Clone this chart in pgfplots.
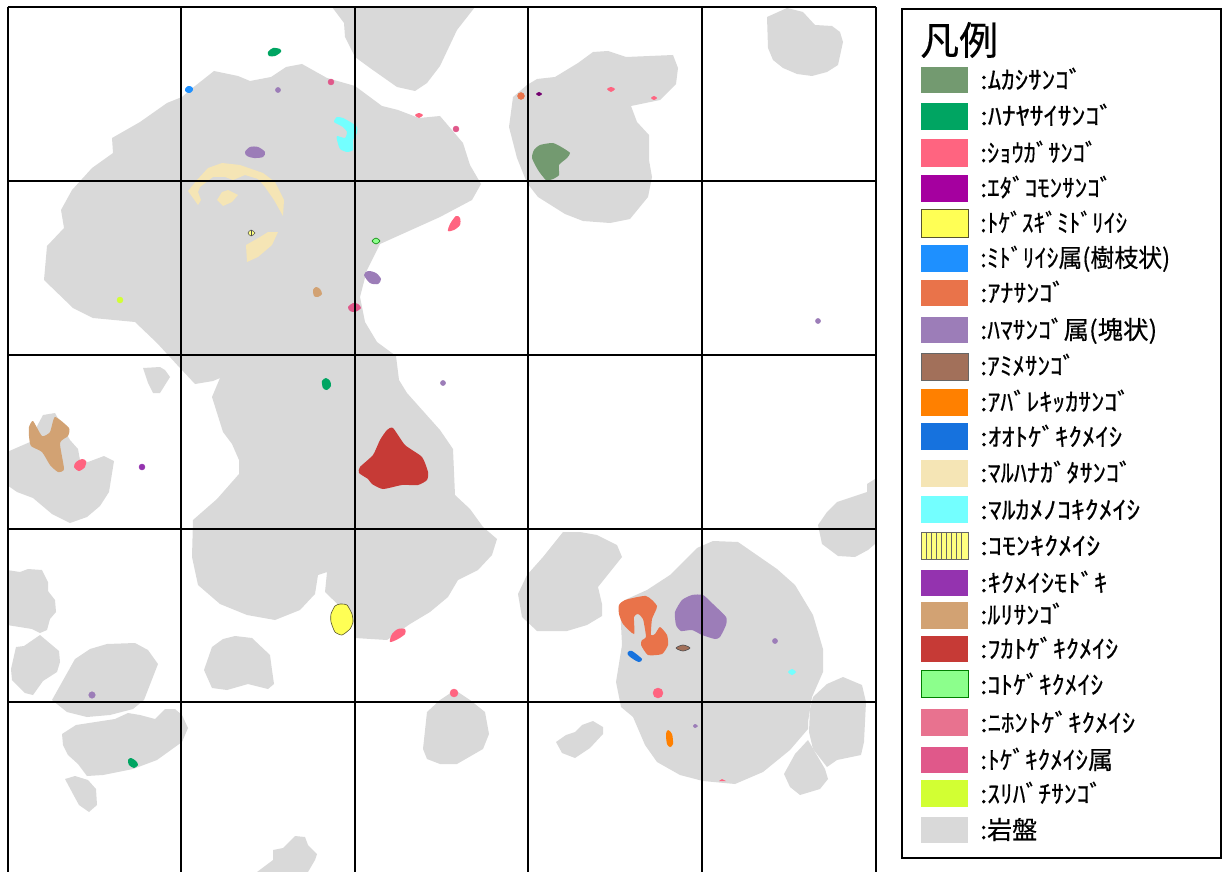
\documentclass[border=0pt]{standalone}
\usepackage{fontspec}
\usepackage{graphicx}
\usepackage{pgfplots}
\pgfplotsset{compat=1.18}
\setmainfont{Noto Sans CJK JP}

\definecolor{rock}{HTML}{D9D9D9}
\definecolor{mukashi}{HTML}{739A70}
\definecolor{hanayasai}{HTML}{00A562}
\definecolor{shouga}{HTML}{FF6480}
\definecolor{edakomon}{HTML}{A5009F}
\definecolor{togesugi}{HTML}{FFFF55}
\definecolor{midoriishi}{HTML}{1E90FF}
\definecolor{ana}{HTML}{E9734A}
\definecolor{hama}{HTML}{9C7DB8}
\definecolor{amime}{HTML}{A2705A}
\definecolor{abare}{HTML}{FF8000}
\definecolor{ootoge}{HTML}{1672DE}
\definecolor{maruhana}{HTML}{F5E5B5}
\definecolor{marukame}{HTML}{73FFFF}
\definecolor{komon}{HTML}{FFFF80}
\definecolor{modoki}{HTML}{9433AF}
\definecolor{ruri}{HTML}{D2A273}
\definecolor{fukatoge}{HTML}{C63A36}
\definecolor{kotoge}{HTML}{8CFF8C}
\definecolor{nihontoge}{HTML}{E8728F}
\definecolor{togekiku}{HTML}{E0588A}
\definecolor{suribachi}{HTML}{D2FF33}

% squeeze a legend label to the width it has in the picture
\newsavebox\fitbox
\newcommand\fitw[2]{\sbox\fitbox{#2}\pgfmathsetmacro\fitratio{#1/\the\wd\fitbox}\scalebox{\fitratio}[1]{\usebox\fitbox}}
\newcommand\leglabel[3]{\node[anchor=base west,inner sep=0pt] at (axis cs:980,#1+9) {\fontsize{25pt}{25pt}\selectfont\addfontfeature{FakeBold=0.4}\fitw{#2}{#3}};}
\newcommand\swatch[4][none]{\addplot[fill=#2,draw=#1,line width=0.8pt] coordinates {(921,#3) (968,#3) (968,#4) (921,#4)} -- cycle;}
\pgfplotsset{
  rockpoly/.style={fill=rock,draw=none},
  blob/.style={fill=#1,draw=none,smooth cycle},
  softblob/.style={fill=#1,draw=none,smooth cycle,tension=0.35},
  dot/.style={only marks,mark=*,mark size=#1pt,mark options={draw=none}},
  gridline/.style={black,line width=2pt},
}

\begin{document}
\begin{tikzpicture}
\begin{axis}[
    scale only axis,
    width=1224pt,
    height=872pt,
    xmin=0,xmax=1224,
    ymin=0,ymax=872,
    y dir=reverse,
    hide axis,
    unbounded coords=jump,
]
% keeps the whole page in the bounding box
\addplot[draw=none] coordinates {(0,0) (1224,872)};
% bedrock
\addplot[rockpoly] coordinates {(182,97) (190,90) (214,71) (238,76) (250,81) (271,77) (286,67) (302,64) (327,78) (355,86) (382,106) (398,110) (419,118) (440,116) (463,143) (470,165) (481,184) (472,200) (440,217) (400,235) (380,244) (367,270) (360,297) (365,322) (377,342) (396,356) (399,380) (407,393) (440,430) (453,449) (455,495) (470,509) (483,527) (497,539) (492,555) (478,570) (458,580) (448,597) (430,612) (410,624) (387,640) (355,638) (353,619) (325,592) (327,572) (318,575) (315,594) (300,610) (275,620) (247,615) (220,604) (198,585) (192,557) (193,520) (217,499) (239,474) (239,460) (232,444) (223,432) (212,397) (220,378) (213,381) (195,384) (180,368) (157,343) (135,322) (93,318) (73,308) (44,280) (47,246) (64,228) (61,210) (72,190) (92,168) (113,153) (112,138) (140,122) (167,103)} -- cycle;
\addplot[rockpoly] coordinates {(332,7) (344,23) (345,37) (355,57) (370,68) (397,87) (415,91) (427,83) (440,66) (457,30) (475,7)} -- cycle;
\addplot[rockpoly] coordinates {(537,79) (555,77) (578,63) (593,52) (608,51) (626,57) (673,55) (678,68) (676,84) (660,100) (631,106) (637,122) (649,135) (649,160) (652,177) (648,197) (630,219) (610,223) (583,221) (565,214) (538,197) (527,183) (517,158) (509,127) (513,97) (527,85)} -- cycle;
\addplot[rockpoly] coordinates {(767,17) (787,8) (803,12) (815,25) (832,26) (840,32) (843,42) (838,65) (827,72) (812,76) (797,74) (783,68) (773,60) (768,48)} -- cycle;
\addplot[rockpoly] coordinates {(143,368) (160,367) (165,370) (170,377) (160,393) (153,393) (148,383)} -- cycle;
\addplot[rockpoly] coordinates {(7,452) (30,442) (35,430) (43,415) (55,413) (70,440) (78,449) (80,460) (88,462) (104,456) (114,461) (109,492) (100,506) (87,517) (70,523) (52,514) (33,498) (17,492) (7,485)} -- cycle;
\addplot[rockpoly] coordinates {(7,570) (20,572) (28,569) (42,570) (48,582) (48,591) (55,600) (56,612) (50,619) (47,630) (40,633) (32,629) (7,625)} -- cycle;
\addplot[rockpoly] coordinates {(16,647) (24,646) (40,635) (59,651) (60,662) (57,672) (43,681) (33,695) (25,693) (12,680) (11,669)} -- cycle;
\addplot[rockpoly] coordinates {(75,659) (90,649) (107,644) (135,643) (148,650) (158,664) (144,700) (133,709) (110,715) (87,717) (67,712) (52,700)} -- cycle;
\addplot[rockpoly] coordinates {(62,734) (76,725) (115,719) (128,713) (140,715) (155,719) (165,709) (175,709) (182,715) (188,728) (182,742) (157,760) (133,769) (103,775) (87,776) (78,764) (68,755) (63,745)} -- cycle;
\addplot[rockpoly] coordinates {(65,779) (75,776) (88,780) (96,789) (97,805) (89,812) (79,805) (73,794)} -- cycle;
\addplot[rockpoly] coordinates {(204,670) (212,647) (223,639) (235,636) (252,638) (270,655) (272,670) (274,684) (268,689) (248,684) (227,690) (212,688)} -- cycle;
\addplot[rockpoly] coordinates {(295,836) (305,837) (308,845) (317,854) (315,860) (308,872) (257,872) (273,860) (273,850) (283,848)} -- cycle;
\addplot[rockpoly] coordinates {(440,700) (427,712) (423,749) (427,759) (440,764) (457,764) (483,749) (489,734) (485,712) (470,700) (455,690)} -- cycle;
\addplot[rockpoly] coordinates {(556,742) (566,735) (575,732) (582,725) (593,721) (603,727) (603,734) (590,748) (575,758) (562,753)} -- cycle;
\addplot[rockpoly] coordinates {(563,532) (580,532) (597,535) (617,545) (622,557) (598,587) (602,604) (602,616) (587,625) (567,631) (537,631) (522,617) (518,594) (527,575) (543,557)} -- cycle;
\addplot[rockpoly] coordinates {(713,541) (738,542) (777,569) (795,585) (813,615) (823,649) (823,672) (812,697) (808,722) (808,729) (790,750) (763,772) (735,784) (703,781) (680,775) (657,762) (645,745) (633,717) (621,707) (616,682) (622,645) (620,605) (627,599) (647,590) (670,575) (697,548)} -- cycle;
\addplot[rockpoly] coordinates {(813,697) (827,684) (843,677) (862,685) (866,702) (864,742) (861,755) (837,760) (827,767) (813,749) (809,732) (810,709)} -- cycle;
\addplot[rockpoly] coordinates {(808,740) (815,752) (825,769) (828,779) (820,789) (800,795) (790,787) (784,774) (795,754)} -- cycle;
\addplot[rockpoly] coordinates {(875,479) (867,484) (867,492) (837,502) (827,512) (818,525) (822,544) (838,556) (855,557) (868,550) (875,544)} -- cycle;

% large colonies
\addplot[softblob=mukashi] coordinates {(540,145) (553,143) (563,148) (570,153) (567,158) (559,165) (559,175) (553,179) (546,180) (538,170) (532,158) (534,150)};
\addplot[fill=maruhana,draw=none] coordinates {(188,191) (197,180) (208,168) (222,163) (240,165) (263,173) (275,182) (284,200) (283,216) (274,200) (265,187) (258,179) (245,175) (233,180) (225,177) (213,177) (200,187) (198,192) (201,200) (198,205)} -- cycle;
\addplot[fill=maruhana,draw=none] coordinates {(217,200) (222,192) (228,190) (238,195) (232,202) (223,206)} -- cycle;
\addplot[fill=maruhana,draw=none] coordinates {(246,245) (260,237) (268,232) (278,232) (272,245) (258,257) (247,262)} -- cycle;
\addplot[softblob=marukame] coordinates {(334,122) (337,117) (343,118) (352,123) (357,127) (357,133) (353,140) (353,150) (347,152) (340,149) (337,140) (337,136) (345,138) (347,132) (343,127)};
\addplot[softblob=ruri] coordinates {(29,427) (33,421) (42,436) (50,432) (55,417) (69,428) (68,436) (60,443) (64,469) (58,472) (50,465) (42,452) (31,446) (29,436)};
\addplot[softblob=fukatoge] coordinates {(393,428) (405,445) (422,457) (428,472) (427,480) (418,485) (402,485) (383,489) (372,484) (368,479) (359,473) (360,467) (373,455) (380,440) (387,430)};
\addplot[softblob=ana] coordinates {(619,605) (625,600) (646,596) (657,606) (652,619) (651,635) (655,634) (660,627) (667,635) (668,645) (662,654) (648,655) (641,645) (642,640) (646,637) (643,619) (638,614) (634,617) (634,634) (623,624) (619,614)};
\addplot[softblob=hama] coordinates {(675,612) (682,600) (692,595) (703,595) (713,604) (726,617) (726,625) (720,637) (715,639) (702,635) (692,630) (681,631) (676,625)};
\addplot[fill=togesugi,draw=black!50!olive,line width=0.6pt,smooth cycle,tension=0.35] coordinates {(340,604) (347,605) (352,614) (353,622) (350,629) (342,635) (335,632) (331,622) (331,614) (335,606)};

% small colonies
\addplot[blob=hanayasai] coordinates {(268,52) (273,48) (280,49) (281,52) (275,56) (269,56)};
\addplot[blob=midoriishi] coordinates {(185,89) (188,86) (192,87) (193,90) (190,93) (186,92)};
\addplot[blob=shouga] coordinates {(415,115) (419,113) (423,115) (419,118)};
\addplot[blob=hama] coordinates {(245,152) (250,147) (258,147) (265,152) (263,157) (254,158) (247,156)};
\addplot[blob=hama] coordinates {(364,275) (368,271) (376,273) (381,279) (378,284) (370,283)};
\addplot[blob=ruri] coordinates {(313,290) (316,287) (320,289) (322,294) (318,297) (314,296)};
\addplot[blob=togekiku] coordinates {(348,307) (353,303) (358,304) (361,308) (355,312) (350,311)};
\addplot[blob=hanayasai] coordinates {(322,381) (326,378) (330,381) (331,386) (327,390) (323,388)};
\addplot[blob=shouga] coordinates {(448,231) (450,224) (456,216) (460,218) (460,225) (454,230)};
\addplot[blob=edakomon!70!black] coordinates {(536,94) (539,92) (542,94) (539,96)};
\addplot[blob=shouga] coordinates {(607,89) (611,87) (615,89) (611,92)};
\addplot[blob=shouga] coordinates {(651,98) (654,96) (657,98) (654,100)};
\addplot[blob=shouga] coordinates {(74,467) (76,462) (82,459) (86,461) (85,467) (79,471)};
\addplot[blob=hanayasai] coordinates {(128,760) (131,758) (136,761) (138,765) (134,768) (129,765)};
\addplot[blob=shouga] coordinates {(390,642) (392,634) (398,629) (405,629) (405,634) (398,639)};
\addplot[blob=ootoge] coordinates {(628,652) (632,651) (642,659) (639,662) (633,659) (628,655)};
\addplot[blob=abare] coordinates {(666,734) (668,730) (672,734) (673,744) (670,747) (667,744)};
\addplot[blob=marukame] coordinates {(788,672) (792,669) (796,672) (792,675)};
\addplot[blob=hama] coordinates {(693,726) (695,724) (698,726) (695,728)};
\addplot[fill=shouga,draw=none] coordinates {(719,781) (722,779) (726,781)} -- cycle;
\addplot[fill=amime,draw=black!70,line width=0.6pt,smooth cycle] coordinates {(676,648) (683,645) (690,648) (683,651)};
\addplot[fill=kotoge,draw=green!50!black,line width=0.6pt,smooth cycle] coordinates {(372,241) (376,238) (380,241) (376,244)};
\addplot[fill=komon,draw=black!70,line width=0.5pt,smooth cycle] coordinates {(248,233) (251,230) (255,233) (251,236)};
\addplot[black!70,line width=0.5pt] coordinates {(251,230) (251,236)};

% round spots
\addplot[dot=2.6,color=hama] coordinates {(278,90) (818,321) (443,383) (775,641)};
\addplot[dot=3.3,color=hama] coordinates {(92,695)};
\addplot[dot=3,color=togekiku] coordinates {(331,82) (456,129)};
\addplot[dot=3,color=suribachi] coordinates {(120,300)};
\addplot[dot=3.5,color=ana] coordinates {(521,96)};
\addplot[dot=3,color=modoki] coordinates {(142,467)};
\addplot[dot=4,color=shouga] coordinates {(454,693)};
\addplot[dot=5,color=shouga] coordinates {(658,693)};

% survey grid
\addplot[gridline] coordinates {(7.5,7) (875.5,7)};
\addplot[gridline] coordinates {(7.5,181) (875.5,181)};
\addplot[gridline] coordinates {(7.5,354.5) (875.5,354.5)};
\addplot[gridline] coordinates {(7.5,528.5) (875.5,528.5)};
\addplot[gridline] coordinates {(7.5,702) (875.5,702)};
\addplot[gridline] coordinates {(7.5,7) (7.5,872)};
\addplot[gridline] coordinates {(181,7) (181,872)};
\addplot[gridline] coordinates {(354.5,7) (354.5,872)};
\addplot[gridline] coordinates {(528,7) (528,872)};
\addplot[gridline] coordinates {(702,7) (702,872)};
\addplot[gridline] coordinates {(875.5,7) (875.5,872)};

% legend
\addplot[draw=black,line width=2pt,fill=white] coordinates {(902,9) (1221,9) (1221,858) (902,858)} -- cycle;
\node[anchor=west,inner sep=0pt] at (axis cs:920,40) {\fontsize{39pt}{39pt}\selectfont\addfontfeature{FakeBold=0.4}凡例};
\swatch{mukashi}{67}{93}
\swatch{hanayasai}{103}{130}
\swatch{shouga}{139}{167}
\swatch{edakomon}{175}{202}
\swatch[black!50!olive]{togesugi}{209}{237}
\swatch{midoriishi}{245}{272}
\swatch{ana}{280}{306}
\swatch{hama}{317}{343}
\swatch[black!60]{amime}{353}{380}
\swatch{abare}{389}{416}
\swatch{ootoge}{423}{450}
\swatch{maruhana}{460}{487}
\swatch{marukame}{496}{523}
\swatch[black!60]{komon}{532}{559}
\addplot[black!60,line width=0.5pt] coordinates {(926,532) (926,559) (931,nan) (931,532) (931,559) (936,nan) (936,532) (936,559) (941,nan) (941,532) (941,559) (946,nan) (946,532) (946,559) (951,nan) (951,532) (951,559) (956,nan) (956,532) (956,559) (961,nan) (961,532) (961,559)};
\swatch{modoki}{570}{596}
\swatch{ruri}{602}{629}
\swatch{fukatoge}{636}{662}
\swatch[green!50!black]{kotoge}{670}{697}
\swatch{nihontoge}{709}{736}
\swatch{togekiku}{747}{773}
\swatch{suribachi}{780}{807}
\swatch{rock}{817}{843}
\leglabel{80}{102}{:ﾑｶｼｻﾝｺﾞ}
\leglabel{116}{133}{:ﾊﾅﾔｻｲｻﾝｺﾞ}
\leglabel{153}{117}{:ｼｮｳｶﾞｻﾝｺﾞ}
\leglabel{188}{132}{:ｴﾀﾞｺﾓﾝｻﾝｺﾞ}
\leglabel{223}{147}{:ﾄｹﾞｽｷﾞﾐﾄﾞﾘｲｼ}
\leglabel{258}{190}{:ﾐﾄﾞﾘｲｼ属(樹枝状)}
\leglabel{293}{85}{:ｱﾅｻﾝｺﾞ}
\leglabel{330}{177}{:ﾊﾏｻﾝｺﾞ属(塊状)}
\leglabel{366}{95}{:ｱﾐﾒｻﾝｺﾞ}
\leglabel{402}{150}{:ｱﾊﾞﾚｷｯｶｻﾝｺﾞ}
\leglabel{437}{142}{:ｵｵﾄｹﾞｷｸﾒｲｼ}
\leglabel{473}{152}{:ﾏﾙﾊﾅｶﾞﾀｻﾝｺﾞ}
\leglabel{510}{160}{:ﾏﾙｶﾒﾉｺｷｸﾒｲｼ}
\leglabel{546}{120}{:ｺﾓﾝｷｸﾒｲｼ}
\leglabel{583}{127}{:ｷｸﾒｲｼﾓﾄﾞｷ}
\leglabel{615}{85}{:ﾙﾘｻﾝｺﾞ}
\leglabel{649}{138}{:ﾌｶﾄｹﾞｷｸﾒｲｼ}
\leglabel{685}{123}{:ｺﾄｹﾞｷｸﾒｲｼ}
\leglabel{723}{155}{:ﾆﾎﾝﾄｹﾞｷｸﾒｲｼ}
\leglabel{760}{133}{:ﾄｹﾞｷｸﾒｲｼ属}
\leglabel{794}{122}{:ｽﾘﾊﾞﾁｻﾝｺﾞ}
\leglabel{830}{57}{:岩盤}
\end{axis}
\end{tikzpicture}
\end{document}
